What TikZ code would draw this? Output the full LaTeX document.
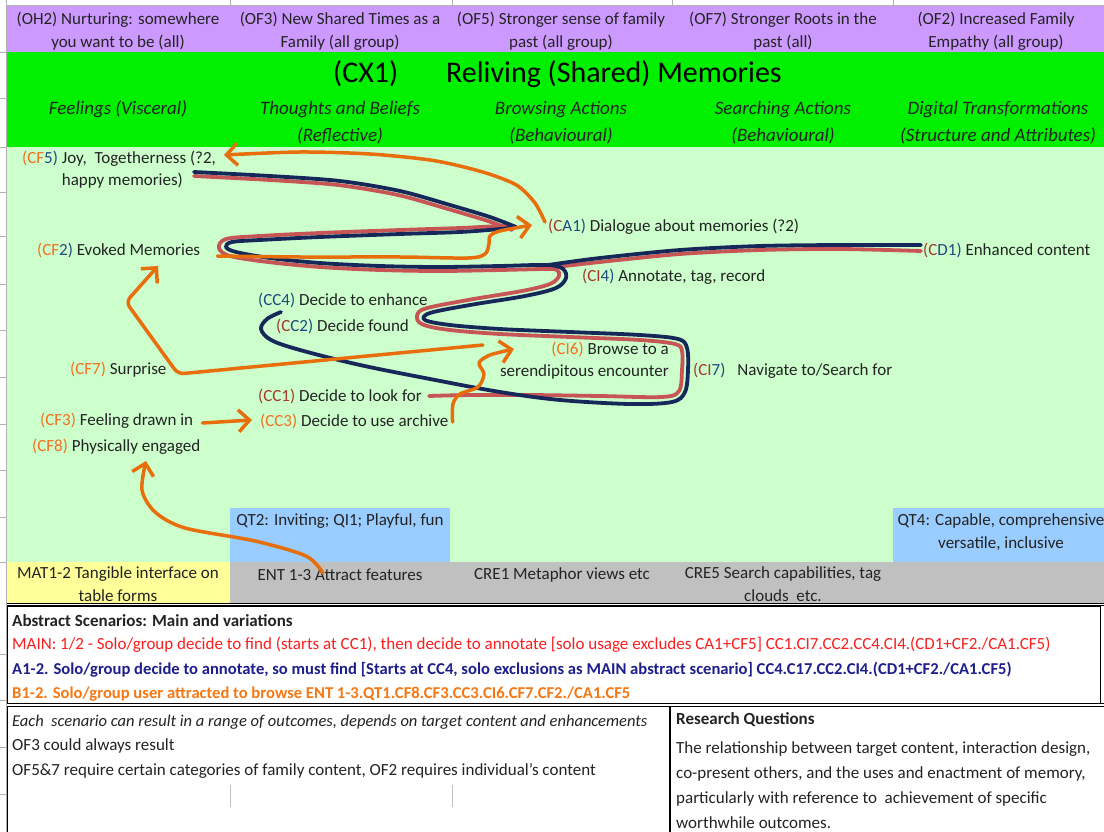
\documentclass[tikz,border=0pt]{standalone}
\usepackage{fontspec}
\setmainfont{Carlito}
\usetikzlibrary{arrows.meta}
\usetikzlibrary{calc}

\definecolor{hdrpurple}{RGB}{204,153,255}
\definecolor{titlegreen}{RGB}{0,240,0}
\definecolor{palegreen}{RGB}{204,255,204}
\definecolor{qtblue}{RGB}{153,204,255}
\definecolor{matyellow}{RGB}{255,255,153}
\definecolor{entgray}{RGB}{192,192,192}
\definecolor{pathnavy}{RGB}{22,40,90}
\definecolor{pathred}{RGB}{200,85,85}
\definecolor{arrorange}{RGB}{232,110,12}
\definecolor{codeorange}{RGB}{244,112,30}
\definecolor{codered}{RGB}{165,55,45}
\definecolor{codeblue}{RGB}{31,73,125}
\definecolor{txtdark}{RGB}{35,35,35}
\definecolor{mainred}{RGB}{250,30,30}
\definecolor{altblue}{RGB}{30,30,140}
\definecolor{altorange}{RGB}{245,120,20}

\newcommand{\cd}[2]{{\color{#1}#2}}

\tikzset{>=latex}
\tikzset{
  lbl/.style={anchor=west, inner sep=0pt, text=txtdark, font=\fontsize{17}{22}\selectfont},
  cell/.style={inner sep=0pt, text=txtdark, align=center, font=\fontsize{17}{22.5}\selectfont},
  subhead/.style={inner sep=0pt, text=txtdark, align=center, font=\fontsize{19}{27}\selectfont\itshape},
  navypath/.style={pathnavy, line width=3.8pt, line cap=round, line join=round},
  redpath/.style={pathred, line width=3.8pt, line cap=round, line join=round},
  orarrow/.style={arrorange, line width=3.5pt, line cap=round, line join=round,
    -{Straight Barb[length=11pt, width=22pt]}}
}

\begin{document}
\begin{tikzpicture}[x=1pt, y=-1pt]
\useasboundingbox (0,0) rectangle (1104,832);
\fill[white] (0,0) rectangle (1104,832);

% spreadsheet bands
\fill[hdrpurple] (7,5) rectangle (1104,52);
\fill[titlegreen] (7,52) rectangle (1104,147);
\fill[palegreen] (7,147) rectangle (1104,562);
\fill[qtblue] (230,508) rectangle (450,562);
\fill[qtblue] (893,508) rectangle (1104,562);
\fill[matyellow] (7,562) rectangle (230,604);
\fill[entgray] (230,562) rectangle (1104,604);

\draw[gray!60] (6.5,0) -- (6.5,832);
\draw[gray!60] (7,5) -- (1104,5);
\foreach \x in {230, 452, 672, 893}
  \draw[gray!60] (\x,0) -- (\x,5);
\foreach \y in {52, 98, 147, 192, 236, 284, 330, 377, 424, 470, 517, 562, 654, 700, 747, 794}
  \draw[gray!60] (0,\y) -- (6.5,\y);

% header row
\node[cell] (OH2) at (118,31) {(OH2) Nurturing: somewhere\\you want to be (all)};
\node[cell] (OF3) at (340,31) {(OF3) New Shared Times as a\\Family (all group)};
\node[cell] (OF5) at (561,31) {(OF5) Stronger sense of family\\past (all group)};
\node[cell] (OF7) at (783,31) {(OF7) Stronger Roots in the\\past (all)};
\node[cell] (OF2) at (996,31) {(OF2) Increased Family\\Empathy (all group)};

\node[anchor=west, inner sep=0pt, text=black, font=\fontsize{30}{32}\selectfont] (CX1) at (333,74)
  {(CX1)\hspace{48pt}Reliving (Shared) Memories};

\node[subhead] (FEEL) at (118,109) {Feelings (Visceral)};
\node[subhead] (THINK) at (340,123) {Thoughts and Beliefs\\(Reflective)};
\node[subhead] (BROWSE) at (561,123) {Browsing Actions\\(Behavioural)};
\node[subhead] (SEARCH) at (783,123) {Searching Actions\\(Behavioural)};
\node[subhead] (DIGI) at (998,123) {Digital Transformations\\(Structure and Attributes)};

% labels
\node[lbl, align=left] (CF5) at (22,170) {\cd{codeorange}{(CF}\cd{codeblue}{5)} Joy,\ \ Togetherness (?2,\\\hphantom{(CF5)\ }happy memories)};
\node[lbl] (CF2) at (37,250) {\cd{codeorange}{(CF}\cd{codeblue}{2)} Evoked Memories};
\node[lbl] (CF7) at (70,370) {\cd{codeorange}{(CF7)} Surprise};
\node[lbl] (CF3) at (40,421) {\cd{codeorange}{(CF3)} Feeling drawn in};
\node[lbl] (CF8) at (32,447) {\cd{codeorange}{(CF8)} Physically engaged};
\node[lbl] (CA1) at (548,227) {\cd{codered}{(C}\cd{codeblue}{A1)} Dialogue about memories (?2)};
\node[lbl] (CD1) at (923,250) {\cd{codered}{(C}\cd{codeblue}{D1)} Enhanced content};
\node[lbl] (CI4) at (582,277) {\cd{codered}{(CI}\cd{codeblue}{4)} Annotate, tag, record};
\node[lbl] (CC4) at (258,300) {\cd{codeblue}{(CC4)} Decide to enhance};
\node[lbl] (CC2) at (276,326) {\cd{codered}{(C}\cd{codeblue}{C2)} Decide found};
\node[lbl, anchor=east, align=right] (CI6) at (669,361) {\cd{codeorange}{(CI6)} Browse to a\\serendipitous encounter};
\node[lbl] (CI7) at (693,371) {\cd{codered}{(CI}\cd{codeblue}{7)}\hspace{12pt}Navigate to/Search for};
\node[lbl] (CC1) at (258,396) {\cd{codered}{(CC1)} Decide to look for};
\node[lbl] (CC3) at (260,421) {\cd{codeorange}{(CC3)} Decide to use archive};

\node[cell] (QT2) at (340,521) {QT2: Inviting; QI1; Playful, fun};
\node[cell] (QT4) at (1001,532) {QT4: Capable, comprehensive\\versatile, inclusive};
\node[cell] (MAT) at (118,584) {MAT1-2 Tangible interface on\\table forms};
\node[cell] (ENT) at (340,575) {ENT 1-3 Attract features};
\node[cell] (CRE1) at (562,575) {CRE1 Metaphor views etc};
\node[cell] (CRE5) at (783,584) {CRE5 Search capabilities, tag\\clouds\ \ etc.};

% arrow ends
\coordinate (cf5in) at (224,155);
\coordinate (ca1in) at (532,225);
\coordinate (cf2in) at (158,266);
\coordinate (ci6in) at (514,349);
\coordinate (cf8in) at (146,461);

% scenario traces
\draw[redpath] plot[smooth, tension=0.55] coordinates {($(CC1.east)+(7,0)$) (470,395) (530,395) (600,396) (662,397) (679,391) (682,370) (682,351) (675,344) (640,340) (570,337) (500,334) (450,330) (424,325) (417,318) (424,309) (468,300) (522,291) (550,284) (559,276) (557,270) (546,269) (500,270) (440,271) (380,270) (320,267) (268,262) (230,256) (219,248) (226,239) (260,236) (320,233) (400,230) (460,228) (500,226) (512,226)};
\draw[redpath] plot[smooth] coordinates {(512,230) (488,221) (448,209) (398,195) (338,185) (270,180) (194,176)};
\draw[redpath] plot[smooth] coordinates {(548,268) (600,262) (680,254) (760,250) (840,249) (921,251)};

\draw[navypath] plot[smooth, tension=0.55] coordinates {(281,312) (267,319) (261,329) (271,340) (300,350) (360,365) (430,379) (500,392) (560,400) (630,404) (672,402) (685,392) (688,370) (687,348) (678,339) (640,335) (570,332) (500,329) (450,325) (425,320) (430,313) (470,305) (525,296) (556,288) (566,278) (563,269) (548,265) (500,266) (440,267) (380,266) (320,263) (270,258) (236,252) (226,247) (232,242) (260,240) (320,237) (400,234) (460,232) (500,229) (516,227)};
\draw[navypath] plot[smooth] coordinates {(516,227) (490,217) (450,205) (400,191) (340,181) (270,176) (194,172)};
\draw[navypath] plot[smooth] coordinates {(548,265) (600,258) (680,250) (760,246) (840,245) (921,245)};

% arrows
\draw[orarrow] plot[smooth] coordinates {($(CA1.west)+(-3,-5)$) (535,203) (518,186) (495,176) (468,168) (430,160) (370,154) (300,152) (cf5in)};
\draw[orarrow] plot[smooth] coordinates {($(CF2.east)+(17,6)$) (300,257) (400,257) (468,258) (485,254) (489,244) (490,236) (500,231) (ca1in)};
\draw[orarrow, rounded corners=6pt] (483,345) -- (178,374) -- (126,302) -- (cf2in);
\draw[orarrow] plot[smooth] coordinates {($(CC3.east)+(4,1)$) (453,404) (460,394) (478,387) (484,374) (479,363) (490,355) (ci6in)};
\draw[orarrow] ($(CF3.east)+(9,2)$) -- ($(CC3.west)+(-8,-1)$);
\draw[orarrow] plot[smooth] coordinates {(323,573) (306,556) (255,541) (185,528) (155,512) (142,490) (cf8in)};

% abstract scenarios
\fill[white] (7,606) rectangle (1100,704);
\draw[line width=1pt] (7,606) rectangle (1100,704);
\draw[double, double distance=1.4pt, line width=0.9pt] (7,604.5) -- (1104,604.5);
\draw[double, double distance=1.4pt, line width=0.9pt] (7,705) -- (1104,705);
\node[lbl, font=\fontsize{17}{22}\selectfont\bfseries] (ABS) at (12,621) {Abstract Scenarios: Main and variations};
\node[lbl, text=mainred] (MAIN) at (12,645) {MAIN: 1/2 - Solo/group decide to find (starts at CC1), then decide to annotate [solo usage excludes CA1+CF5] CC1.CI7.CC2.CC4.CI4.(CD1+CF2./CA1.CF5)};
\node[lbl, text=altblue, font=\fontsize{16.6}{22}\selectfont\bfseries] (ALT) at (12,670) {A1-2. Solo/group decide to annotate, so must find [Starts at CC4, solo exclusions as MAIN abstract scenario] CC4.C17.CC2.CI4.(CD1+CF2./CA1.CF5)};
\node[lbl, text=altorange, font=\fontsize{16.6}{22}\selectfont\bfseries] (BRW) at (12,694) {B1-2. Solo/group user attracted to browse ENT 1-3.QT1.CF8.CF3.CC3.CI6.CF7.CF2./CA1.CF5};

% outcomes and questions
\draw[line width=0.8pt] (7,706) -- (7,832);
\draw[line width=2pt] (670,706) -- (670,832);
\draw[gray!50] (230,785) -- (230,807);
\draw[gray!50] (452,785) -- (452,807);
\node[lbl, font=\fontsize{16.5}{20}\selectfont\itshape] (EACH) at (12,722) {Each\ \ scenario can result in a range of outcomes, depends on target content and enhancements};
\node[lbl] (OF3R) at (12,746) {OF3 could always result};
\node[lbl] (OF5R) at (12,771) {OF5\&7 require certain categories of family content, OF2 requires individual's content};
\node[lbl, font=\fontsize{17}{22}\selectfont\bfseries] (RQ) at (676,720) {Research Questions};
\node[lbl, align=left, font=\fontsize{17}{25}\selectfont] (RQT) at (676,785) {The relationship between target content, interaction design,\\co-present others, and the uses and enactment of memory,\\particularly with reference to\ \ achievement of specific\\worthwhile outcomes.};
\end{tikzpicture}
\end{document}
